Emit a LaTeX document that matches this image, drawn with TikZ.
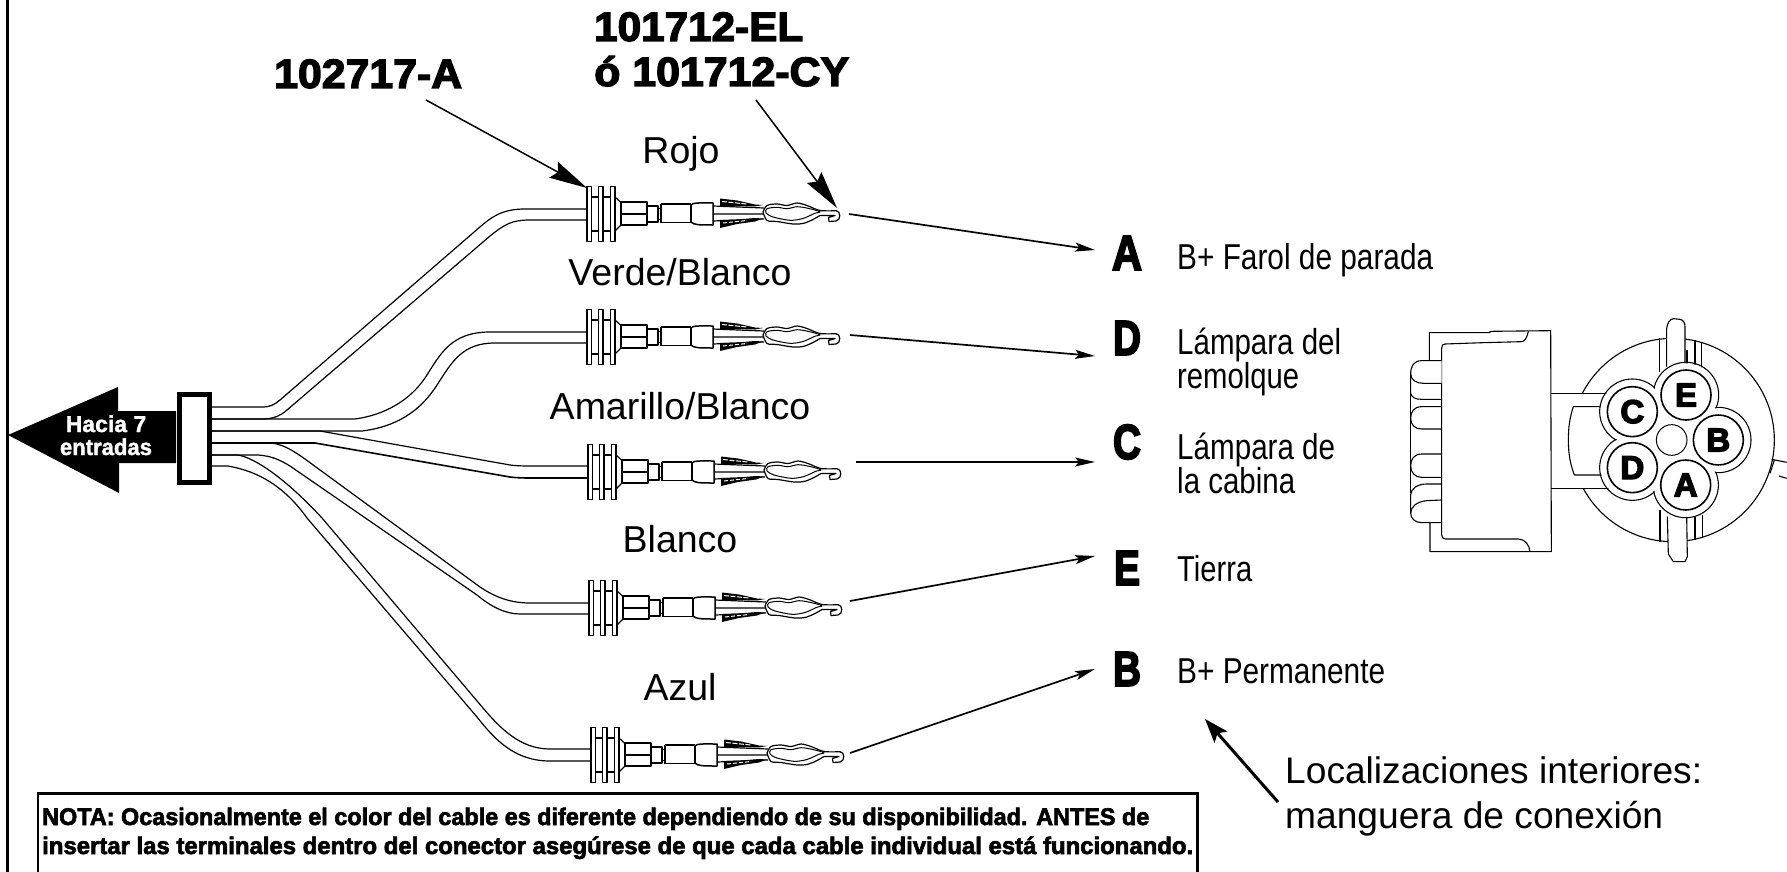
\documentclass[tikz,border=0pt]{standalone}
\usepackage{fontspec}
\usepackage{graphicx}
\usetikzlibrary{arrows.meta}
\setmainfont{Liberation Sans}
\newfontfamily\heavyfont[BoldFeatures={FakeBold=3.2}]{Liberation Sans}
\newfontfamily\blackfont[BoldFeatures={FakeBold=4}]{Liberation Sans}
\newfontfamily\notefont[BoldFeatures={FakeBold=2.6}]{Liberation Sans}
\newfontfamily\whitefont[BoldFeatures={FakeBold=1.5}]{Liberation Sans}
\newcommand{\setfs}[1]{\fontsize{#1}{#1}\selectfont}
\newcommand{\fitw}[2]{\resizebox{#1pt}{\height}{#2}}
\tikzset{
  wire/.style={line width=1.2pt,line join=round},
  colorlabel/.style={anchor=base,inner sep=0pt,font=\setfs{37.5}},
  pinlabel/.style={anchor=base west,inner sep=0pt,font=\setfs{36}},
  letterlabel/.style={anchor=center,inner sep=0pt,font=\blackfont\bfseries\setfs{49}},
  partlabel/.style={anchor=base west,inner sep=0pt,font=\heavyfont\bfseries\setfs{41}},
  notelabel/.style={anchor=base west,inner sep=0pt,font=\notefont\bfseries\setfs{24}},
  biglabel/.style={anchor=base west,inner sep=0pt,font=\setfs{37}},
  whitelabel/.style={anchor=base,inner sep=0pt,text=white,font=\whitefont\bfseries\setfs{23}},
  pinarrow/.style={line width=1.7pt,-{Stealth[length=20pt,width=9pt,inset=4pt]}},
  partarrow/.style={line width=1.5pt,-{Stealth[length=38pt,width=18pt,inset=5pt]}},
  fatarrow/.style={line width=3pt,-{Stealth[length=24pt,width=17pt,inset=5pt]}},
  contact/.style={draw,circle,line width=1.6pt,fill=white,minimum size=50pt,inner sep=0pt,font=\blackfont\bfseries\setfs{33}},
  plug/.style={line width=1.1pt,line join=round},
  term/.style={line width=1.2pt,line join=round},
  pics/terminal/.style={code={
    \draw[term,fill=white] (0,-27.5) rectangle (4.5,27.5);
    \draw[term,fill=white] (11.5,-27.5) rectangle (16,27.5);
    \draw[term,fill=white] (23.5,-27.5) rectangle (28,27.5);
    \draw[term] (4.5,-17)--(11.5,-17) (16,-17)--(23.5,-17) (4.5,17)--(11.5,17) (16,17)--(23.5,17);
    \draw[term] (28,-17)--(34,-11.5) (28,17)--(34,11);
    \draw[term,line width=1.4pt] (34,-12) rectangle (60,11);
    \draw[term,line width=1.5pt] (34,0)--(60,0);
    \draw[term] (60,-8) rectangle (71,8) (71,-5.5) rectangle (74,5.5);
    \draw[term,line width=1.8pt] (74,-10)--(104,-10) (74,8.5)--(104,8.5);
    \draw[term] (74,-10)--(74,8.5);
    \draw[term,line width=1.9pt] (104,-10)--(104,8.5);
    \draw[term,line width=1.5pt] (104,-9) .. controls (106,-11.5) and (110,-11) .. (126,-11)--(126,11) .. controls (112,11) and (107,11) .. (104,8);
    \draw[term] (126,-8)--(177,-6) (126,0)--(177,0) (126,7)--(177,5);
    \fill (133,-15.5)--(150,-13.5)--(168,-9.5)--(176,-9)--(168,-7.5)--(150,-8)--(133,-7.5)--cycle;
    \draw[white,line width=1pt,dash pattern=on 5pt off 1.5pt] (135,-12.5)--(160,-10);
    \fill (133,6)--(150,5.5)--(168,4)--(176,4.5)--(168,7.5)--(150,10)--(133,14)--cycle;
    \draw[white,line width=1pt,dash pattern=on 4pt off 2pt] (136,9)--(160,6.5);
    \draw[term,fill=white] plot[smooth] coordinates {(176,-2) (180,-8.5) (190,-10) (200,-8.5) (210,-11) (220,-8.5) (233,-3.5) (249,-3.3)} .. controls (254,-3.3) and (254,6.5) .. (249,7) -- (242,7.5) -- (241.5,3.5) -- (248,1.5) -- (233,1.5) plot[smooth] coordinates {(233,1.5) (225,6) (216,9.5) (206,10) (190,7.5) (180,6.5) (176,-2)};
    \draw[term,line width=1pt,fill=white] plot[smooth cycle] coordinates {(180,-5.3) (190,-6.7) (200,-5.3) (210,-7.3) (221,-5.7) (233,-2.3) (228,-.8) (216,4.5) (203,6.3) (186,3) (179,-1)};
  }}
}
\begin{document}
\begin{tikzpicture}[x=1pt,y=-1pt]
\useasboundingbox (0,0) rectangle (1787,872);
\fill[white] (0,0) rectangle (1787,872);
% frame
\coordinate (frameTop) at (7.5,0);
\coordinate (frameBot) at (7.5,872);
\draw[line width=2.6pt] (frameTop)--(frameBot);
% wires
\draw[wire] (212,407)--(262,407) .. controls (270,407) and (274,405) .. (280,400)--(473,233) .. controls (490,218) and (500,209) .. (525,209)--(587,209);
\draw[wire] (212,419)--(265,419) .. controls (275,418) and (280,416) .. (287,410)--(490,236) .. controls (505,224) and (512,220) .. (530,220)--(587,220);
\draw[wire] (212,419)--(355,419) .. controls (385,415) and (410,400) .. (425,378) .. controls (440,355) and (450,332) .. (490,332)--(587,332);
\draw[wire] (212,431)--(362,431) .. controls (395,427) and (420,412) .. (437,385) .. controls (452,362) and (462,343) .. (495,343)--(587,343);
\draw[wire] (212,431)--(320,431)--(510,465) .. controls (518,466) and (525,466) .. (535,466)--(588,466);
\draw[wire,line width=1.6pt] (212,443)--(315,443)--(510,477) .. controls (518,478) and (525,478) .. (535,478)--(588,478);
\draw[wire] (212,443)--(272,443) .. controls (285,445) and (295,452) .. (305,459)--(480,587) .. controls (495,597) and (510,603) .. (530,603)--(589,603);
\draw[wire] (212,455)--(258,455) .. controls (272,456) and (280,460) .. (290,466)--(477,595) .. controls (490,606) and (505,614) .. (520,614)--(589,614);
\draw[wire] (212,455)--(238,455) .. controls (255,458) and (285,478) .. (322,518)--(483,708) .. controls (500,728) and (520,749) .. (550,749)--(591,749);
\draw[wire] (212,466)--(228,466) .. controls (250,470) and (280,480) .. (307,518)--(477,717) .. controls (495,740) and (515,761) .. (550,761)--(591,761);
% arrow to inputs
\fill (8,435)--(118,387)--(118,411)--(176,411)--(176,463)--(119,463)--(119,493)--cycle;
\node[whitelabel] (hacia) at (106,432) {Hacia 7};
\node[whitelabel] (entradas) at (106,455) {\fitw{92}{entradas}};
\draw[line width=5pt,fill=white] (179.5,394.5) rectangle (209.5,482.5);
% terminals
\pic at (587,214) {terminal};
\pic at (587,337) {terminal};
\pic at (588,472) {terminal};
\pic at (589,608) {terminal};
\pic at (591,755) {terminal};
% colour labels
\node[colorlabel] (rojo) at (681,163) {Rojo};
\node[colorlabel] (verde) at (680,285) {Verde/Blanco};
\node[colorlabel] (amarillo) at (680,419) {Amarillo/Blanco};
\node[colorlabel] (blanco) at (680,552) {Blanco};
\node[colorlabel] (azul) at (680,700) {Azul};
% part numbers
\node[partlabel] (pa) at (274,88) {\fitw{188}{102717-A}};
\node[partlabel] (pb) at (594,41) {\fitw{209}{101712-EL}};
\node[partlabel] (pc) at (594,86) {\fitw{255}{ó 101712-CY}};
\coordinate (pa1) at (426,100);
\coordinate (pa2) at (587,188);
\coordinate (pc1) at (756,100);
\coordinate (pc2) at (837,208);
\draw[partarrow] (pa1)--(pa2);
\draw[partarrow] (pc1)--(pc2);
% pin letters
\node[letterlabel] (lA) at (1127,253) {\fitw{30}{A}};
\node[letterlabel] (lD) at (1127,338) {\fitw{28}{D}};
\node[letterlabel] (lC) at (1127,442) {\fitw{28}{C}};
\node[letterlabel] (lE) at (1127,568) {\fitw{26}{E}};
\node[letterlabel] (lB) at (1127,669) {\fitw{28}{B}};
\coordinate (sA) at (849,214); \coordinate (hA) at (1095,250);
\coordinate (sD) at (850,335); \coordinate (hD) at (1095,356);
\coordinate (sC) at (856,462); \coordinate (hC) at (1095,462);
\coordinate (sE) at (850,601); \coordinate (hE) at (1095,556);
\coordinate (sB) at (850,753); \coordinate (hB) at (1095,669);
\draw[pinarrow] (sA)--(hA);
\draw[pinarrow] (sD)--(hD);
\draw[pinarrow] (sC)--(hC);
\draw[pinarrow] (sE)--(hE);
\draw[pinarrow] (sB)--(hB);
% pin texts
\node[pinlabel] (t1) at (1177,269) {\fitw{256}{B+ Farol de parada}};
\node[pinlabel] (t2) at (1177,354) {\fitw{164}{Lámpara del}};
\node[pinlabel] (t3) at (1177,388) {\fitw{122}{remolque}};
\node[pinlabel] (t4) at (1177,459) {\fitw{158}{Lámpara de}};
\node[pinlabel] (t5) at (1177,493) {\fitw{118}{la cabina}};
\node[pinlabel] (t6) at (1177,581) {\fitw{75}{Tierra}};
\node[pinlabel] (t7) at (1177,683) {\fitw{208}{B+ Permanente}};
% pointer
\node[biglabel] (b1) at (1285,783) {\fitw{417}{Localizaciones interiores:}};
\node[biglabel] (b2) at (1285,828) {\fitw{378}{manguera de conexión}};
\coordinate (pt1) at (1278,802);
\coordinate (pt2) at (1205,719);
\draw[fatarrow] (pt1)--(pt2);
% note
\coordinate (nL) at (38,872); \coordinate (nTL) at (38,793.5); \coordinate (nTR) at (1197.5,793.5); \coordinate (nR) at (1197.5,872);
\draw[line width=2.4pt] (nL)--(nTL)--(nTR)--(nR);
\node[notelabel] (n1) at (42,825) {\fitw{1107}{NOTA: Ocasionalmente el color del cable es diferente dependiendo de su disponibilidad. ANTES de}};
\node[notelabel] (n2) at (42,854) {\fitw{1151}{insertar las terminales dentro del conector asegúrese de que cada cable individual está funcionando.}};
% connector
\begin{scope}[shift={(1380,300)},scale=1/3]
\draw[plug] (878,420) circle (305);
% plug body
\fill[white] (512,280) rectangle (700,565);
\draw[plug] (512,280)--(690,280) (512,565)--(700,565);
\draw[plug] (660,320)--(580,320) .. controls (570,350) and (565,380) .. (565,420) .. controls (565,465) and (572,495) .. (583,525)--(670,525);
% housing
\draw[plug,fill=white] (148,182)--(148,98)--(330,98)--(330,94)--(512,92)--(514,755)--(150,755)--(150,668);
\draw[plug,fill=white] (445,94) .. controls (442,110) and (435,125) .. (425,125)--(310,128)--(195,132) .. controls (188,132) and (185,136) .. (185,145)--(185,705) .. controls (185,713) and (190,717) .. (197,717)--(415,717) .. controls (435,717) and (448,735) .. (450,755);
\draw[plug,fill=white] (185,182)--(125,182) .. controls (100,182) and (92,200) .. (92,222) .. controls (92,240) and (110,250) .. (130,250)--(185,250);
\draw[plug] (92,222)--(92,280) .. controls (95,292) and (105,298) .. (125,298)--(185,298);
\draw[plug] (185,320)--(125,320) .. controls (102,320) and (92,335) .. (92,355) .. controls (92,375) and (105,387) .. (125,387)--(185,387);
\draw[plug] (92,280)--(92,355) (92,355)--(92,495);
\draw[plug] (185,462)--(125,462) .. controls (102,462) and (92,478) .. (92,497) .. controls (92,518) and (105,532) .. (125,532)--(185,532);
\draw[plug] (92,497)--(92,580);
\draw[plug] (185,552)--(140,552) .. controls (110,552) and (92,568) .. (92,585)--(92,640) .. controls (92,655) and (105,668) .. (125,668)--(185,668);
\draw[plug] (185,600)--(140,602) .. controls (110,605) and (92,620) .. (92,640);
% keys and ribs
\draw[plug] (838,115)--(838,215) (945,120)--(945,200) (965,125)--(965,205);
\draw[plug,line width=1.8pt] (920,150)--(920,195);
\draw[plug,fill=white] (860,200)--(860,85) .. controls (862,70) and (868,58) .. (880,56)--(900,58) .. controls (910,60) and (915,68) .. (915,80)--(915,190);
\draw[plug] (840,630)--(840,727) (945,650)--(945,720) (968,645)--(968,715);
\draw[plug,fill=white] (862,650)--(865,762)--(880,785)--(915,785)--(922,770)--(920,650);
\draw[plug] (1175,478)--(1220,487) (1197,528)--(1220,535) (1183,480)--(1170,520);
% lobes
\foreach \cx/\cy in {918/285,757/335,1015/420,757/503,917/555}
  \draw[plug] (\cx,\cy) circle (98);
\foreach \cx/\cy in {918/285,757/335,1015/420,757/503,917/555}
  \fill[white] (\cx,\cy) circle (95);
\fill[white] (875,420) circle (110);
\draw[line width=1pt] (875,420) circle (46);
\node[contact] (cE) at (918,285) {E};
\node[contact] (cC) at (757,335) {C};
\node[contact] (cB) at (1015,420) {B};
\node[contact] (cD) at (757,503) {D};
\node[contact] (cA) at (917,555) {A};
\end{scope}
\end{tikzpicture}
\end{document}
